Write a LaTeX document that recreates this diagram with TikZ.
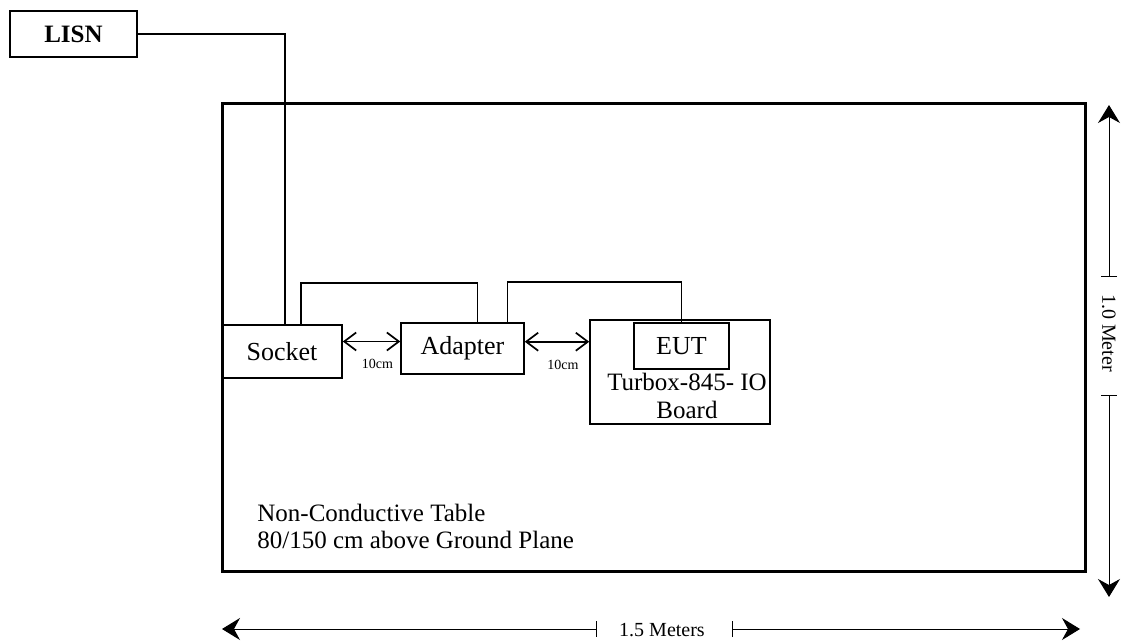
\documentclass[tikz,border=0pt]{standalone}
\usepackage{fontspec}
\setmainfont{Liberation Serif}
\usetikzlibrary{arrows.meta, positioning, calc}
\tikzset{
  box/.style     = {draw, line width=0.75pt, inner sep=0pt,
                    font=\fontsize{13}{14}\selectfont},
  tablebox/.style= {draw, line width=1.5pt, inner sep=0pt,
                    minimum width=431.5pt, minimum height=233.5pt},
  wire/.style    = {line width=0.85pt},
  gap/.style     = {{Straight Barb[length=6pt, width=9pt]}-{Straight Barb[length=6pt, width=9pt]},
                    line width=0.85pt},
  dimarrow/.style= {{Stealth[length=9pt, width=11pt, inset=3pt]}-{Bar[width=8pt]},
                    line width=0.5pt},
  dimtext/.style = {font=\fontsize{10}{12}\selectfont, inner sep=0pt},
  small/.style   = {font=\fontsize{7}{8}\selectfont, inner sep=0pt},
}
\begin{document}
\begin{tikzpicture}[x=0.5pt, y=-0.5pt]
  \useasboundingbox (0,0) rectangle (1121,642);
  \node[tablebox] (table) at (653.5,337.5) {};
  \node[box, font=\fontsize{12.5}{14}\selectfont\bfseries,
        minimum width=63.5pt, minimum height=23pt] (lisn) at (73.5,34) {LISN};
  \node[box, minimum width=60pt, minimum height=26.5pt] (socket) at (282,351.5) {Socket};
  \node[box, minimum width=61.5pt, minimum height=25.5pt] (adapter) at (462.5,348.5) {Adapter};
  \node[box, minimum width=90pt, minimum height=52pt] (board) at (680,372) {};
  \node[box, minimum width=47.5pt, minimum height=23pt] (eut) at (681.5,346) {EUT};
  \node[align=center, inner sep=0pt, font=\fontsize{12.5}{14}\selectfont] (boardtxt) at (687,396)
    {Turbox-845- IO\\Board};
  \draw[wire] (lisn.east) -| ([xshift=1.5pt]socket.north);
  \draw[wire] ([xshift=9.5pt]socket.north) -- ++(0,-41) -| ([xshift=7.5pt]adapter.north);
  \draw[wire] ([xshift=22.5pt]adapter.north) -- ++(0,-40) -| (eut.north);
  \draw[gap] ([yshift=5pt]socket.east) -- ([yshift=5pt]socket.east -| adapter.west)
    node[small, midway, below=8.5pt, xshift=3pt] (gap1) {10cm};
  \draw[gap] ([yshift=3.4pt]adapter.east) -- ([yshift=3.4pt]adapter.east -| board.west)
    node[small, midway, below=9pt, xshift=3pt] (gap2) {10cm};
  \node[align=left, anchor=north west, inner sep=0pt, font=\fontsize{12.5}{13.5}\selectfont]
    (tabletxt) at (257,504) {Non-Conductive Table\\80/150 cm above Ground Plane};
  \node[dimtext, rotate=-90] (dimv) at (1109,333) {1.0 Meter};
  \coordinate (vtop) at (1109,105);
  \coordinate (vbot) at (1109,597);
  \draw[dimarrow] (vtop) -- (1109,277);
  \draw[dimarrow] (vbot) -- (1109,395);
  \node[dimtext] (dimh) at (662,630) {1.5 Meters};
  \coordinate (hleft) at (222,629);
  \coordinate (hright) at (1080,629);
  \draw[dimarrow] (hleft) -- (597,629);
  \draw[dimarrow] (hright) -- (732,629);
\end{tikzpicture}
\end{document}
